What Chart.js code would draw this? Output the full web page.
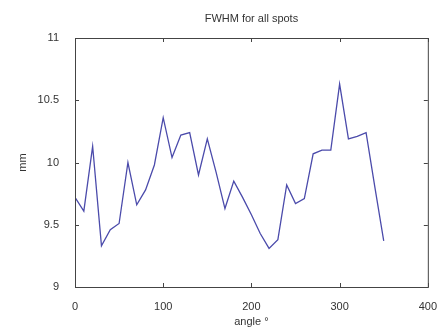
<!DOCTYPE html>
<html>
<head>
<meta charset="utf-8">
<script src="https://cdn.jsdelivr.net/npm/chart.js@4.4.1/dist/chart.umd.min.js"></script>
<style>
  body { margin: 0; background: #fff; }
  canvas { display: block; }
</style>
</head>
<body>
<canvas id="fwhm-chart" width="442" height="333"></canvas>
<script>
// angle in degrees, FWHM in mm
const angles = [0, 10, 20, 30, 40, 50, 60, 70, 80, 90, 100, 110, 120, 130, 140, 150, 160, 170,
                180, 190, 200, 210, 220, 230, 240, 250, 260, 270, 280, 290, 300, 310, 320, 330, 340, 350];
const fwhm = [9.72, 9.61, 10.13, 9.33, 9.46, 9.51, 10.00, 9.66, 9.78, 9.98, 10.36, 10.04, 10.22, 10.24,
              9.90, 10.19, 9.92, 9.63, 9.85, 9.72, 9.58, 9.43, 9.31, 9.38, 9.82, 9.67, 9.71, 10.07,
              10.10, 10.10, 10.63, 10.19, 10.21, 10.24, 9.80, 9.37];
const xTicks = [0, 100, 200, 300, 400];
const yTicks = [9, 9.5, 10, 10.5, 11];

const textColor = '#333';
Chart.defaults.font.family = "'Liberation Sans', Arial, sans-serif";
Chart.defaults.font.size = 11;
Chart.defaults.color = textColor;

// matlab style box, inward ticks and title centred over the axes
const matlabAxes = {
  id: 'matlabAxes',
  afterDraw(chart) {
    const {ctx, chartArea: a, scales: {x, y}} = chart;
    ctx.save();
    ctx.strokeStyle = '#444';
    ctx.lineWidth = 1;
    ctx.strokeRect(a.left + 0.5, a.top + 0.5, a.right - a.left, a.bottom - a.top);
    const len = 4;
    ctx.beginPath();
    xTicks.forEach(v => {
      const px = Math.round(x.getPixelForValue(v)) + 0.5;
      ctx.moveTo(px, a.bottom); ctx.lineTo(px, a.bottom - len);
      ctx.moveTo(px, a.top); ctx.lineTo(px, a.top + len);
    });
    yTicks.forEach(v => {
      const py = Math.round(y.getPixelForValue(v)) + 0.5;
      ctx.moveTo(a.left, py); ctx.lineTo(a.left + len, py);
      ctx.moveTo(a.right, py); ctx.lineTo(a.right - len, py);
    });
    ctx.stroke();
    ctx.fillStyle = textColor;
    ctx.textAlign = 'center';
    ctx.textBaseline = 'middle';
    ctx.font = "11px 'Liberation Sans', Arial, sans-serif";
    ctx.fillText('FWHM for all spots', (a.left + a.right) / 2, 19);
    ctx.restore();
  }
};

new Chart(document.getElementById('fwhm-chart'), {
  type: 'line',
  data: {
    datasets: [{
      label: 'FWHM',
      data: angles.map((a, i) => ({x: a, y: fwhm[i]})),
      borderColor: '#4b4bab',
      borderWidth: 1.3,
      pointRadius: 0,
      fill: false,
      tension: 0
    }]
  },
  options: {
    responsive: false,
    animation: false,
    events: [],
    layout: { padding: { top: 38, right: 12, left: 0, bottom: 0 } },
    plugins: {
      legend: { display: false },
      tooltip: { enabled: false }
    },
    scales: {
      x: {
        type: 'linear',
        min: 0, max: 400,
        afterBuildTicks: s => { s.ticks = xTicks.map(v => ({value: v})); },
        afterFit: s => { s.height = 46; },
        grid: { display: false },
        border: { display: false },
        ticks: { padding: 5, maxRotation: 0, color: textColor, callback: v => String(v) },
        title: { display: true, text: 'angle °', padding: { top: 0, bottom: 4 }, color: textColor }
      },
      y: {
        min: 9, max: 11,
        afterBuildTicks: s => { s.ticks = yTicks.map(v => ({value: v})); },
        afterFit: s => { s.width = 75; },
        grid: { display: false },
        border: { display: false },
        ticks: { padding: 8, color: textColor, callback: v => String(v) },
        title: { display: true, text: 'mm', padding: { top: 16, bottom: 0 }, color: textColor }
      }
    }
  },
  plugins: [matlabAxes]
});
</script>
</body>
</html>
